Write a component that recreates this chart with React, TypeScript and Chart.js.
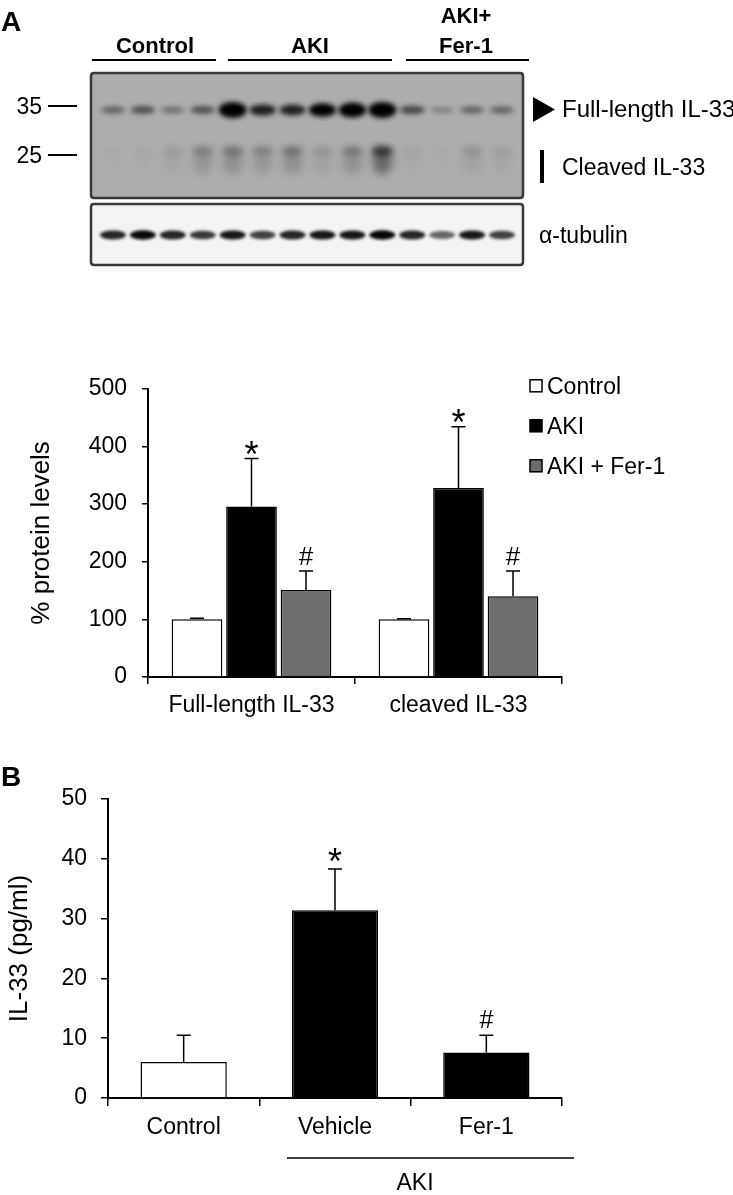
import React, { useEffect, useRef } from 'react';
import { Chart, registerables } from 'chart.js';

Chart.register(...registerables);

const FONT = '"Liberation Sans", Arial, Helvetica, sans-serif';

// ---------------- Panel A: western blot ----------------
const blotLanes = [
  'Control 1', 'Control 2', 'Control 3', 'Control 4',
  'AKI 1', 'AKI 2', 'AKI 3', 'AKI 4', 'AKI 5', 'AKI 6',
  'AKI+Fer-1 1', 'AKI+Fer-1 2', 'AKI+Fer-1 3', 'AKI+Fer-1 4',
];
const blotGroups = ['Control', 'AKI', 'AKI+\nFer-1'];
const fullLengthBand = [0.33, 0.42, 0.26, 0.42, 1.0, 0.72, 0.7, 0.88, 0.95, 1.0, 0.48, 0.15, 0.33, 0.33];
const cleavedBand = [0.02, 0.03, 0.1, 0.3, 0.38, 0.28, 0.38, 0.15, 0.35, 0.9, 0.05, 0.02, 0.15, 0.08];
const tubulinBand = [0.8, 0.95, 0.8, 0.7, 0.88, 0.65, 0.8, 0.88, 0.88, 0.97, 0.8, 0.45, 0.88, 0.65];
const markerLabels = ['35', '25'];
const bandLabels = ['Full-length IL-33', 'Cleaved IL-33', 'α-tubulin'];

// ---------------- Panel A: quantification ----------------
const quantCategories = ['Full-length IL-33', 'cleaved IL-33'];
const quantSeries = ['Control', 'AKI', 'AKI + Fer-1'];
const quantControl = [100, 100];
const quantAKI = [296, 328];
const quantFer1 = [151, 140];
const quantControlErr = [2, 1];
const quantAKIErr = [83, 106];
const quantFer1Err = [33, 44];
const quantControlSig = ['', ''];
const quantAKISig = ['*', '*'];
const quantFer1Sig = ['#', '#'];
const quantTicks = [0, 100, 200, 300, 400, 500];

// ---------------- Panel B: ELISA ----------------
const elisaCategories = ['Control', 'Vehicle', 'Fer-1'];
const elisaValues = [6.0, 31.4, 7.6];
const elisaErrors = [4.5, 6.9, 2.9];
const elisaSig = ['', '*', '#'];
const elisaTicks = [0, 10, 20, 30, 40, 50];
const elisaBracketLabel = 'AKI';

function rr(ctx: CanvasRenderingContext2D, x: number, y: number, w: number, h: number, r: number) {
  ctx.beginPath();
  ctx.moveTo(x + r, y);
  ctx.lineTo(x + w - r, y);
  ctx.quadraticCurveTo(x + w, y, x + w, y + r);
  ctx.lineTo(x + w, y + h - r);
  ctx.quadraticCurveTo(x + w, y + h, x + w - r, y + h);
  ctx.lineTo(x + r, y + h);
  ctx.quadraticCurveTo(x, y + h, x, y + h - r);
  ctx.lineTo(x, y + r);
  ctx.quadraticCurveTo(x, y, x + r, y);
  ctx.closePath();
}

function band(ctx: CanvasRenderingContext2D, x: number, y: number, rx: number, ry: number, alpha: number, blur: number) {
  if (alpha <= 0) return;
  ctx.save();
  ctx.filter = `blur(${blur}px)`;
  ctx.fillStyle = `rgba(0,0,0,${Math.min(1, alpha)})`;
  ctx.beginPath();
  ctx.ellipse(x, y, rx, ry, 0, 0, Math.PI * 2);
  ctx.fill();
  ctx.restore();
}

const blotPlugin = {
  id: 'blotDraw',
  beforeDatasetsDraw(chart: any) {
    const ctx: CanvasRenderingContext2D = chart.ctx;
    const xs = chart.scales.x;
    const lx = (i: number) => xs.getPixelForValue(i);
    const ds = chart.data.datasets;
    ctx.save();
    ctx.fillStyle = '#000';
    ctx.strokeStyle = '#000';
    ctx.textBaseline = 'alphabetic';

    // panel letter
    ctx.font = `bold 28px ${FONT}`;
    ctx.textAlign = 'left';
    ctx.fillText('A', 1, 31);

    // group headers
    const headerPos = [
      { cx: 155, x0: 92, x1: 216 },
      { cx: 310, x0: 228, x1: 392 },
      { cx: 466, x0: 406, x1: 529 },
    ];
    ctx.font = `bold 22px ${FONT}`;
    ctx.textAlign = 'center';
    blotGroups.forEach((g, gi) => {
      const lines = g.split('\n');
      const p = headerPos[gi];
      lines.forEach((ln, li) => {
        ctx.fillText(ln, p.cx, 53 - (lines.length - 1 - li) * 30);
      });
      ctx.lineWidth = 2;
      ctx.beginPath();
      ctx.moveTo(p.x0, 60);
      ctx.lineTo(p.x1, 60);
      ctx.stroke();
    });

    // main blot box
    const bx = 91, bw = 432;
    ctx.fillStyle = '#adadad';
    rr(ctx, bx, 73, bw, 125, 3);
    ctx.fill();
    ctx.save();
    rr(ctx, bx, 73, bw, 125, 3);
    ctx.clip();
    (ds[0].data as number[]).forEach((v, i) => {
      band(ctx, lx(i), 110, 11 + 3 * v, 3 + 5 * v * v, 0.12 + v, 2.6);
    });
    (ds[1].data as number[]).forEach((v, i) => {
      band(ctx, lx(i), 151, 11, 5, v * 0.75, 3);
      band(ctx, lx(i), 162, 10, 12, v * 0.45, 4);
    });
    ctx.restore();
    ctx.lineWidth = 2.5;
    ctx.strokeStyle = '#383838';
    rr(ctx, bx, 73, bw, 125, 3);
    ctx.stroke();

    // tubulin box
    ctx.fillStyle = '#f4f4f4';
    rr(ctx, bx, 204, bw, 61, 3);
    ctx.fill();
    ctx.save();
    rr(ctx, bx, 204, bw, 61, 3);
    ctx.clip();
    (ds[2].data as number[]).forEach((v, i) => {
      band(ctx, lx(i), 235, 13, 3.5 + 1.2 * v, 0.25 + 0.75 * v, 1.8);
    });
    ctx.restore();
    ctx.strokeStyle = '#383838';
    rr(ctx, bx, 204, bw, 61, 3);
    ctx.stroke();

    // size markers
    ctx.fillStyle = '#000';
    ctx.strokeStyle = '#000';
    ctx.font = `23px ${FONT}`;
    ctx.textAlign = 'right';
    const markerY = [106, 155];
    markerLabels.forEach((m, i) => {
      ctx.fillText(m, 42, markerY[i] + 8);
      ctx.lineWidth = 2;
      ctx.beginPath();
      ctx.moveTo(48, markerY[i]);
      ctx.lineTo(77, markerY[i]);
      ctx.stroke();
    });

    // band labels on the right
    ctx.textAlign = 'left';
    ctx.beginPath();
    ctx.moveTo(533, 97);
    ctx.lineTo(555, 109.5);
    ctx.lineTo(533, 122);
    ctx.closePath();
    ctx.fill();
    ctx.font = `24px ${FONT}`;
    ctx.fillText(bandLabels[0], 562, 117);
    ctx.fillRect(540, 150, 4, 33);
    ctx.font = `23px ${FONT}`;
    ctx.fillText(bandLabels[1], 562, 175);
    ctx.fillText(bandLabels[2], 539, 243);
    ctx.restore();
  },
};

const errorBarPlugin = {
  id: 'errorBars',
  afterDatasetsDraw(chart: any, _args: any, opts: any) {
    const ctx: CanvasRenderingContext2D = chart.ctx;
    const yScale = chart.scales.y;
    chart.data.datasets.forEach((ds: any, di: number) => {
      const meta = chart.getDatasetMeta(di);
      meta.data.forEach((bar: any, i: number) => {
        const v = ds.data[i];
        const e = (ds.errors && ds.errors[i]) || 0;
        const top = yScale.getPixelForValue(v + e);
        const x = bar.x;
        ctx.save();
        ctx.strokeStyle = '#000';
        ctx.lineWidth = 1.5;
        ctx.beginPath();
        ctx.moveTo(x, bar.y);
        ctx.lineTo(x, top);
        ctx.moveTo(x - opts.cap, top);
        ctx.lineTo(x + opts.cap, top);
        ctx.stroke();
        const s = ds.sig && ds.sig[i];
        if (s) {
          ctx.fillStyle = '#000';
          ctx.textAlign = 'center';
          ctx.textBaseline = 'alphabetic';
          if (s === '*') {
            ctx.font = `${opts.starSize}px ${FONT}`;
            ctx.fillText(s, x, top + opts.starOffset);
          } else {
            ctx.font = `${opts.hashSize}px ${FONT}`;
            ctx.fillText(s, x, top + opts.hashOffset);
          }
        }
        ctx.restore();
      });
    });
  },
};

const quantLegendPlugin = {
  id: 'quantLegend',
  afterDraw(chart: any) {
    const ctx: CanvasRenderingContext2D = chart.ctx;
    ctx.save();
    ctx.font = `23px ${FONT}`;
    ctx.textAlign = 'left';
    ctx.textBaseline = 'alphabetic';
    chart.data.datasets.forEach((ds: any, i: number) => {
      const y = chart.chartArea.top - 3 + i * 40;
      ctx.fillStyle = ds.backgroundColor;
      ctx.fillRect(530, y - 6, 12, 12);
      ctx.strokeStyle = '#000';
      ctx.lineWidth = 1.5;
      ctx.strokeRect(530, y - 6, 12, 12);
      ctx.fillStyle = '#000';
      ctx.fillText(ds.label, 547, y + 8);
    });
    ctx.restore();
  },
};

const elisaExtrasPlugin = {
  id: 'elisaExtras',
  afterDraw(chart: any) {
    const ctx: CanvasRenderingContext2D = chart.ctx;
    ctx.save();
    ctx.fillStyle = '#000';
    ctx.strokeStyle = '#000';
    ctx.font = `bold 28px ${FONT}`;
    ctx.textAlign = 'left';
    ctx.textBaseline = 'alphabetic';
    ctx.fillText('B', 1, 26);
    ctx.lineWidth = 1.5;
    ctx.beginPath();
    ctx.moveTo(287, 398);
    ctx.lineTo(574, 398);
    ctx.stroke();
    ctx.font = `23px ${FONT}`;
    ctx.textAlign = 'center';
    ctx.fillText(elisaBracketLabel, 415, 430);
    ctx.restore();
  },
};

const axisBase = (tickLength: number, padding: number) => ({
  grid: {
    display: true,
    drawOnChartArea: false,
    drawTicks: true,
    tickLength,
    color: '#000',
    lineWidth: 1.5,
  },
  border: { display: true, color: '#000', width: 2 },
  ticks: { font: { family: FONT, size: 23 }, color: '#000', padding },
});

export default function App() {
  const blotRef = useRef<HTMLCanvasElement>(null);
  const quantRef = useRef<HTMLCanvasElement>(null);
  const elisaRef = useRef<HTMLCanvasElement>(null);

  useEffect(() => {
    const charts: Chart[] = [];

    charts.push(
      new Chart(blotRef.current as HTMLCanvasElement, {
        type: 'bar',
        data: {
          labels: blotLanes,
          datasets: [
            { label: bandLabels[0], data: fullLengthBand, backgroundColor: 'rgba(0,0,0,0)' },
            { label: bandLabels[1], data: cleavedBand, backgroundColor: 'rgba(0,0,0,0)' },
            { label: bandLabels[2], data: tubulinBand, backgroundColor: 'rgba(0,0,0,0)' },
          ],
        },
        options: {
          responsive: false,
          animation: false,
          layout: { padding: { left: 98, right: 216, top: 73, bottom: 15 } },
          scales: {
            x: { display: false },
            y: { display: false, min: 0, max: 1 },
          },
          plugins: { legend: { display: false }, tooltip: { enabled: false } },
        },
        plugins: [blotPlugin],
      } as any)
    );

    const qx: any = axisBase(7, 8);
    qx.grid.offset = true;
    qx.afterFit = (s: any) => { s.height = 53; };
    const qy: any = axisBase(6, 15);
    qy.min = 0;
    qy.max = 500;
    qy.afterBuildTicks = (s: any) => { s.ticks = quantTicks.map((v) => ({ value: v })); };
    qy.afterFit = (s: any) => { s.width = 148; };
    qy.title = {
      display: true,
      text: '% protein levels',
      color: '#000',
      font: { family: FONT, size: 26 },
      padding: { top: 26, bottom: 0 },
    };

    const barCommon = { borderColor: '#000', borderWidth: 1.5, categoryPercentage: 0.79, barPercentage: 0.93 };
    charts.push(
      new Chart(quantRef.current as HTMLCanvasElement, {
        type: 'bar',
        data: {
          labels: quantCategories,
          datasets: [
            { label: quantSeries[0], data: quantControl, errors: quantControlErr, sig: quantControlSig, backgroundColor: '#ffffff', ...barCommon },
            { label: quantSeries[1], data: quantAKI, errors: quantAKIErr, sig: quantAKISig, backgroundColor: '#000000', ...barCommon },
            { label: quantSeries[2], data: quantFer1, errors: quantFer1Err, sig: quantFer1Sig, backgroundColor: '#6e6e6e', ...barCommon },
          ],
        },
        options: {
          responsive: false,
          animation: false,
          layout: { padding: { top: 26, right: 171, left: 0, bottom: 0 } },
          scales: { x: qx, y: qy },
          plugins: {
            legend: { display: false },
            tooltip: { enabled: false },
            errorBars: { cap: 7, starSize: 36, starOffset: 8, hashSize: 26, hashOffset: -6 },
          },
        },
        plugins: [errorBarPlugin, quantLegendPlugin],
      } as any)
    );

    const ex: any = axisBase(8, 8);
    ex.grid.offset = true;
    ex.afterFit = (s: any) => { s.height = 97; };
    const ey: any = axisBase(7, 14);
    ey.min = 0;
    ey.max = 50;
    ey.afterBuildTicks = (s: any) => { s.ticks = elisaTicks.map((v) => ({ value: v })); };
    ey.afterFit = (s: any) => { s.width = 108; };
    ey.title = {
      display: true,
      text: 'IL-33 (pg/ml)',
      color: '#000',
      font: { family: FONT, size: 26 },
      padding: { top: 4, bottom: 0 },
    };

    charts.push(
      new Chart(elisaRef.current as HTMLCanvasElement, {
        type: 'bar',
        data: {
          labels: elisaCategories,
          datasets: [
            {
              label: 'IL-33',
              data: elisaValues,
              errors: elisaErrors,
              sig: elisaSig,
              backgroundColor: ['#ffffff', '#000000', '#000000'],
              borderColor: '#000',
              borderWidth: 1.5,
              categoryPercentage: 0.57,
              barPercentage: 1,
            },
          ],
        },
        options: {
          responsive: false,
          animation: false,
          layout: { padding: { top: 39, right: 171, left: 0, bottom: 0 } },
          scales: { x: ex, y: ey },
          plugins: {
            legend: { display: false },
            tooltip: { enabled: false },
            errorBars: { cap: 7, starSize: 36, starOffset: 5, hashSize: 25, hashOffset: -7 },
          },
        },
        plugins: [errorBarPlugin, elisaExtrasPlugin],
      } as any)
    );

    return () => charts.forEach((c) => c.destroy());
  }, []);

  return (
    <div style={{ position: 'absolute', left: 0, top: 0, width: 733, height: 1195, background: '#fff', overflow: 'hidden' }}>
      <canvas ref={blotRef} width={733} height={280} style={{ position: 'absolute', left: 0, top: 0 }} />
      <canvas ref={quantRef} width={733} height={370} style={{ position: 'absolute', left: 0, top: 360 }} />
      <canvas ref={elisaRef} width={733} height={435} style={{ position: 'absolute', left: 0, top: 760 }} />
    </div>
  );
}
